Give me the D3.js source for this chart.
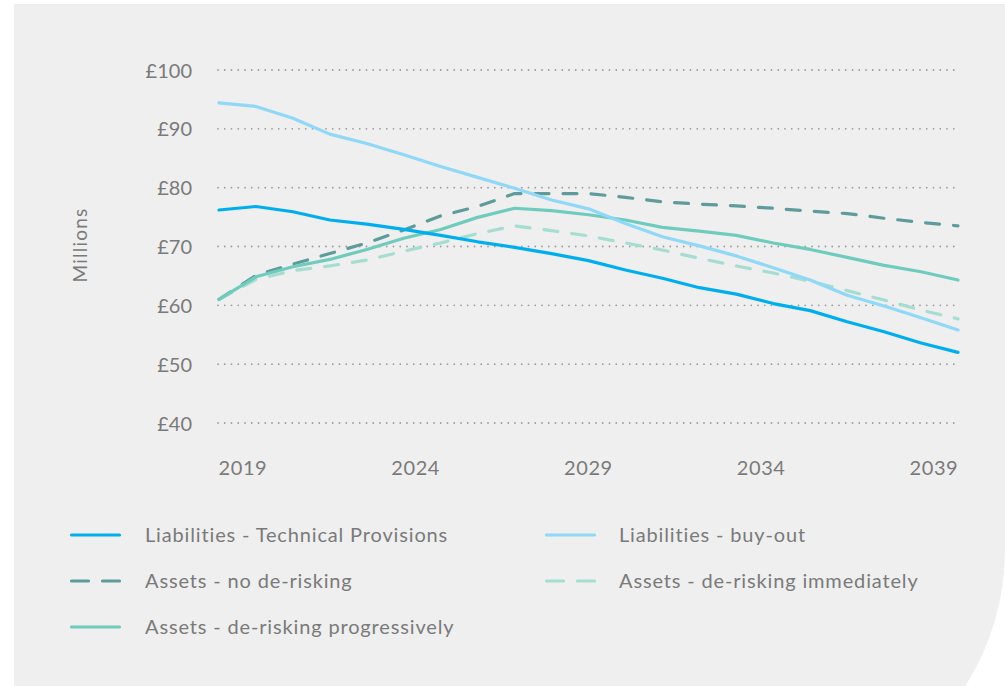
<!DOCTYPE html>
<html>
<head>
<meta charset="utf-8">
<script src="https://cdn.jsdelivr.net/npm/d3@7"></script>
<style>
  html, body { margin: 0; padding: 0; background: #ffffff; }
  svg { display: block; }
  text { font-family: Lato, "Open Sans", sans-serif; fill: #7a7a7a; }
</style>
</head>
<body>
<svg id="chart" width="1005" height="686"></svg>
<script>
const years = [2019,2020,2021,2022,2023,2024,2025,2026,2027,2028,2029,2030,2031,2032,2033,2034,2035,2036,2037,2038,2039];
const tickYears = [2019, 2024, 2029, 2034, 2039];
const yTicks = [40, 50, 60, 70, 80, 90, 100];

const liabTP     = [76.2, 76.8, 75.9, 74.5, 73.8, 72.9, 71.9, 70.8, 69.85, 68.8, 67.6, 66.0, 64.6, 63.0, 61.9, 60.3, 59.1, 57.2, 55.5, 53.6, 52.0];
const liabBuyout = [94.4, 93.8, 91.8, 89.1, 87.5, 85.6, 83.6, 81.75, 79.9, 77.9, 76.4, 73.9, 71.65, 70.1, 68.4, 66.4, 64.3, 61.7, 59.9, 57.9, 55.8];
const assetsNone = [61.0, 65.1, 67.0, 68.8, 70.6, 72.8, 75.2, 76.8, 79.0, 79.0, 79.0, 78.35, 77.6, 77.2, 76.9, 76.5, 76.0, 75.6, 74.8, 74.1, 73.5];
const assetsProg = [61.0, 64.85, 66.55, 67.8, 69.5, 71.4, 72.9, 74.95, 76.5, 76.1, 75.4, 74.5, 73.25, 72.6, 71.9, 70.6, 69.5, 68.15, 66.8, 65.7, 64.3];
const assetsImm  = [61.0, 64.4, 65.9, 66.7, 67.7, 69.2, 70.6, 72.2, 73.5, 72.7, 71.8, 70.6, 69.4, 68.0, 66.7, 65.5, 64.1, 62.5, 60.9, 59.2, 57.7];

const seriesNames = ["Liabilities - Technical Provisions", "Liabilities - buy-out", "Assets - no de-risking", "Assets - de-risking immediately", "Assets - de-risking progressively"];

const series = [
  { name: seriesNames[0], values: liabTP,     color: "#00aeef", dash: null },
  { name: seriesNames[1], values: liabBuyout, color: "#8fd8f7", dash: null },
  { name: seriesNames[2], values: assetsNone, color: "#5f9b9b", dash: "14,14" },
  { name: seriesNames[3], values: assetsImm,  color: "#a6ddd3", dash: "14,14" },
  { name: seriesNames[4], values: assetsProg, color: "#6fcbbd", dash: null }
];

const svg = d3.select("#chart");

// background panel with rounded lower-right corner
svg.append("path")
  .attr("d", "M14,4 H1005 V548 A260,260 0 0 1 965.4,686 H14 Z")
  .attr("fill", "#efefef");

const x = d3.scaleLinear().domain([2019, 2039]).range([219, 958]);
const xLabel = d3.scaleLinear().domain([2019, 2039]).range([218, 909]);
const y = d3.scaleLinear().domain([40, 100]).range([423, 70]);

// gridlines
svg.append("g")
  .selectAll("line")
  .data(yTicks)
  .join("line")
  .attr("x1", 218).attr("x2", 959)
  .attr("y1", d => y(d)).attr("y2", d => y(d))
  .attr("stroke", "#9c9c9c")
  .attr("stroke-width", 1.8)
  .attr("stroke-linecap", "round")
  .attr("stroke-dasharray", "0,6.75");

// y-axis labels
const yAxis = d3.axisLeft(y).tickValues(yTicks).tickSize(0).tickPadding(0).tickFormat(d => "£" + d);
const gy = svg.append("g").attr("transform", "translate(192,0)").call(yAxis);
gy.select(".domain").remove();
gy.selectAll("text").attr("font-size", 20).style("font-family", "Lato, sans-serif").attr("fill", "#7a7a7a").attr("dy", "0.35em");

// x-axis labels
const xAxis = d3.axisBottom(xLabel).tickValues(tickYears).tickSize(0).tickPadding(0).tickFormat(d3.format("d"));
const gx = svg.append("g").attr("transform", "translate(0,468)").call(xAxis);
gx.select(".domain").remove();
gx.selectAll("text").attr("font-size", 20).style("font-family", "Lato, sans-serif").attr("text-anchor", "start").attr("dy", "0.35em").attr("y", 0).attr("fill", "#7a7a7a").attr("letter-spacing", 0.6);

// y title
svg.append("text")
  .attr("transform", "translate(80,245) rotate(-90)")
  .attr("text-anchor", "middle")
  .attr("dy", "0.35em")
  .attr("font-size", 19)
  .attr("letter-spacing", 1.2)
  .text("Millions");

// lines
const line = d3.line().x((d, i) => x(years[i])).y(d => y(d));
const drawOrder = [2, 3, 4, 1, 0];
svg.append("g")
  .selectAll("path")
  .data(drawOrder.map(i => series[i]))
  .join("path")
  .attr("d", d => line(d.values))
  .attr("fill", "none")
  .attr("stroke", d => d.color)
  .attr("stroke-width", 3.2)
  .attr("stroke-linecap", "round")
  .attr("stroke-linejoin", "round")
  .attr("stroke-dasharray", d => d.dash);

// legend
const legendPos = [
  { s: 0, lx: 70,  tx: 145, y: 535 },
  { s: 1, lx: 545, tx: 619, y: 535 },
  { s: 2, lx: 70,  tx: 145, y: 581 },
  { s: 3, lx: 545, tx: 619, y: 581 },
  { s: 4, lx: 70,  tx: 145, y: 627 }
];
const lg = svg.append("g").selectAll("g").data(legendPos).join("g");
lg.append("line")
  .attr("x1", d => d.lx + 1.5).attr("x2", d => d.lx + 49.5)
  .attr("y1", d => d.y).attr("y2", d => d.y)
  .attr("stroke", d => series[d.s].color)
  .attr("stroke-width", 3.2)
  .attr("stroke-linecap", "round")
  .attr("stroke-dasharray", d => series[d.s].dash ? "17,14" : null);
lg.append("text")
  .attr("x", d => d.tx).attr("y", d => d.y)
  .attr("dy", "0.35em")
  .attr("font-size", 20)
  .attr("letter-spacing", 0.85)
  .text(d => series[d.s].name);
</script>
</body>
</html>
